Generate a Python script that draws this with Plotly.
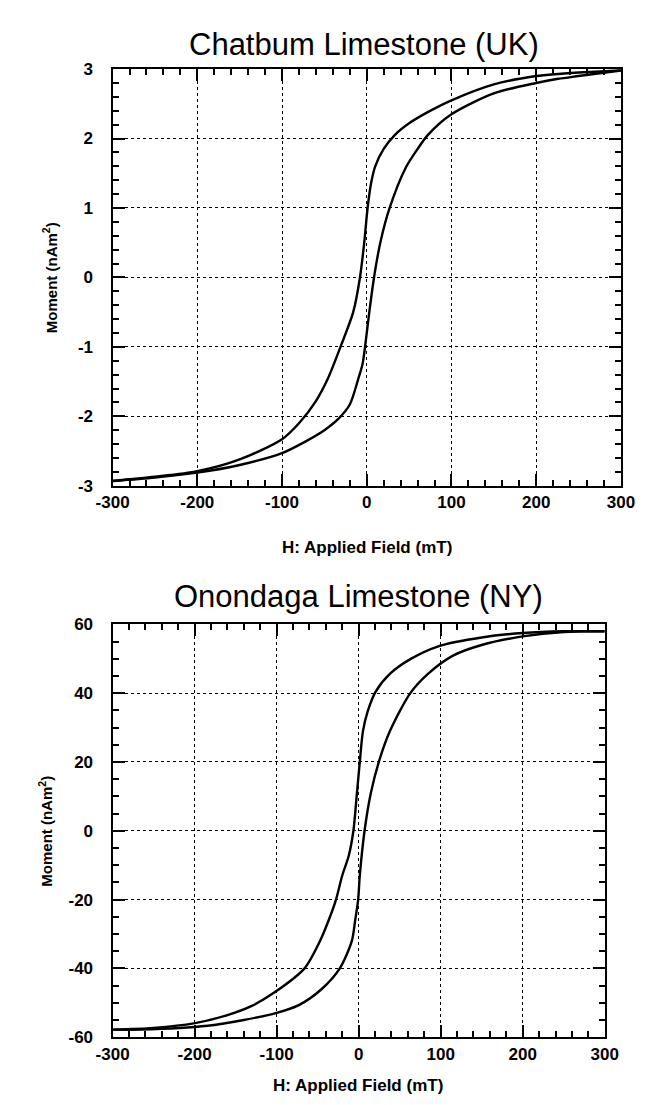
import plotly.graph_objects as go

# Chatburn limestone (UK): descending and ascending branches
chat_h_desc = [300, 250, 226, 200, 150, 100, 72, 50, 33, 20, 10, 5, 1, -3, -8, -16, -31, -46, -60, -80, -100, -150, -200, -250, -300]
chat_m_desc = [2.98, 2.95, 2.93, 2.9, 2.78, 2.55, 2.38, 2.22, 2.05, 1.85, 1.6, 1.35, 1.0, 0.5, 0.0, -0.5, -1.0, -1.46, -1.78, -2.1, -2.33, -2.62, -2.79, -2.87, -2.93]
chat_h_asc = [-300, -250, -200, -150, -100, -72, -50, -33, -20, -10, -5, -2, 3, 8.6, 16, 27, 46, 60, 72, 100, 150, 200, 226, 250, 300]
chat_m_asc = [-2.93, -2.88, -2.81, -2.7, -2.53, -2.36, -2.2, -2.03, -1.83, -1.46, -1.25, -1.0, -0.5, 0.0, 0.5, 1.0, 1.58, 1.85, 2.05, 2.35, 2.65, 2.8, 2.86, 2.9, 2.98]

# Onondaga limestone (NY)
onon_h_desc = [300, 250, 200, 150, 98, 63, 38, 20.6, 11, 5.2, 1.4, -2.5, -6.4, -12, -20, -27.6, -35.4, -47, -66, -102, -131, -160, -201, -250, -300]
onon_m_desc = [58, 58, 57.5, 56.2, 53.7, 49.9, 45.6, 40.4, 34.7, 28.9, 20, 9.9, 0, -7.2, -13, -20, -25.3, -32, -40, -46.9, -51, -53.6, -56, -57.3, -57.8]
onon_h_asc = [-300, -265, -184, -140, -102, -73, -45, -23, -8.3, -4.4, -0.6, 1.4, 7.2, 14.8, 24.6, 38, 63, 84.5, 115, 150, 200, 250, 300]
onon_m_asc = [-57.8, -57.8, -56.7, -55, -53.1, -50.7, -46, -40, -32, -26.3, -20, -13, 0, 10.9, 20, 28.9, 40, 45.6, 50.9, 54, 56.5, 57.8, 58]

x_ticks = [-300, -200, -100, 0, 100, 200, 300]
x_labels = ["-300", "-200", "-100", "0", "100", "200", "300"]
chat_y_ticks = [-3, -2, -1, 0, 1, 2, 3]
chat_y_labels = ["-3", "-2", "-1", "0", "1", "2", "3"]
onon_y_ticks = [-60, -40, -20, 0, 20, 40, 60]
onon_y_labels = ["-60", "-40", "-20", "0", "20", "40", "60"]

W, H = 645, 1105
font = "Liberation Sans, Arial, sans-serif"

fig = go.Figure()
line = dict(color="black", width=2.4, shape="spline", smoothing=0.8)
fig.add_trace(go.Scatter(x=chat_h_desc, y=chat_m_desc, mode="lines", line=line, xaxis="x", yaxis="y"))
fig.add_trace(go.Scatter(x=chat_h_asc, y=chat_m_asc, mode="lines", line=line, xaxis="x", yaxis="y"))
fig.add_trace(go.Scatter(x=onon_h_desc, y=onon_m_desc, mode="lines", line=line, xaxis="x2", yaxis="y2"))
fig.add_trace(go.Scatter(x=onon_h_asc, y=onon_m_asc, mode="lines", line=line, xaxis="x2", yaxis="y2"))


def px_x(p):
    return p / W


def px_y(p):
    return 1 - p / H


def axis(dom, anchor, tickvals, ticktext, rng, minor_dtick, standoff):
    return dict(
        domain=dom, anchor=anchor, range=rng,
        tickmode="array", tickvals=tickvals, ticktext=ticktext,
        ticks="inside", ticklen=12, tickwidth=2, tickcolor="black",
        minor=dict(ticks="inside", dtick=minor_dtick, ticklen=6, tickwidth=1.5, tickcolor="black", showgrid=False),
        showline=True, linecolor="black", linewidth=2.2, mirror="allticks",
        showgrid=True, gridcolor="black", gridwidth=1.2, griddash="dot",
        zeroline=False,
        ticklabelstandoff=standoff,
        tickfont=dict(family=font, size=17, color="black", weight="bold"),
        fixedrange=True,
    )


layout = dict(
    width=W, height=H,
    margin=dict(l=0, r=0, t=0, b=0),
    paper_bgcolor="white", plot_bgcolor="white",
    showlegend=False,
    xaxis=axis([px_x(92), px_x(626)], "y", x_ticks, x_labels, [-300, 300], 20, 0),
    yaxis=axis([px_y(477), px_y(53)], "x", chat_y_ticks, chat_y_labels, [-3, 3], 0.2, 14),
    xaxis2=axis([px_x(92), px_x(609)], "y2", x_ticks, x_labels, [-300, 300], 20, 0),
    yaxis2=axis([px_y(1038), px_y(618)], "x2", onon_y_ticks, onon_y_labels, [-60, 60], 5, 14),
)
fig.update_layout(**layout)

ann = []
ann.append(dict(text="Chatbum Limestone (UK)", x=px_x(356), y=px_y(28), font=dict(family=font, size=31, color="black")))
ann.append(dict(text="H: Applied Field (mT)", x=px_x(359), y=px_y(540), font=dict(family=font, size=17, color="black", weight="bold")))
ann.append(dict(text="Moment (nAm<sup>2</sup>)", x=px_x(26), y=px_y(265), textangle=-90, font=dict(family=font, size=15, color="black", weight="bold")))
ann.append(dict(text="Onondaga Limestone (NY)", x=px_x(350), y=px_y(590), font=dict(family=font, size=31, color="black")))
ann.append(dict(text="H: Applied Field (mT)", x=px_x(350), y=px_y(1087), font=dict(family=font, size=17, color="black", weight="bold")))
ann.append(dict(text="Moment (nAm<sup>2</sup>)", x=px_x(22), y=px_y(828), textangle=-90, font=dict(family=font, size=15, color="black", weight="bold")))
for a in ann:
    a.update(xref="paper", yref="paper", showarrow=False, xanchor="center", yanchor="middle")
fig.update_layout(annotations=ann)

fig.write_html("out.html")
